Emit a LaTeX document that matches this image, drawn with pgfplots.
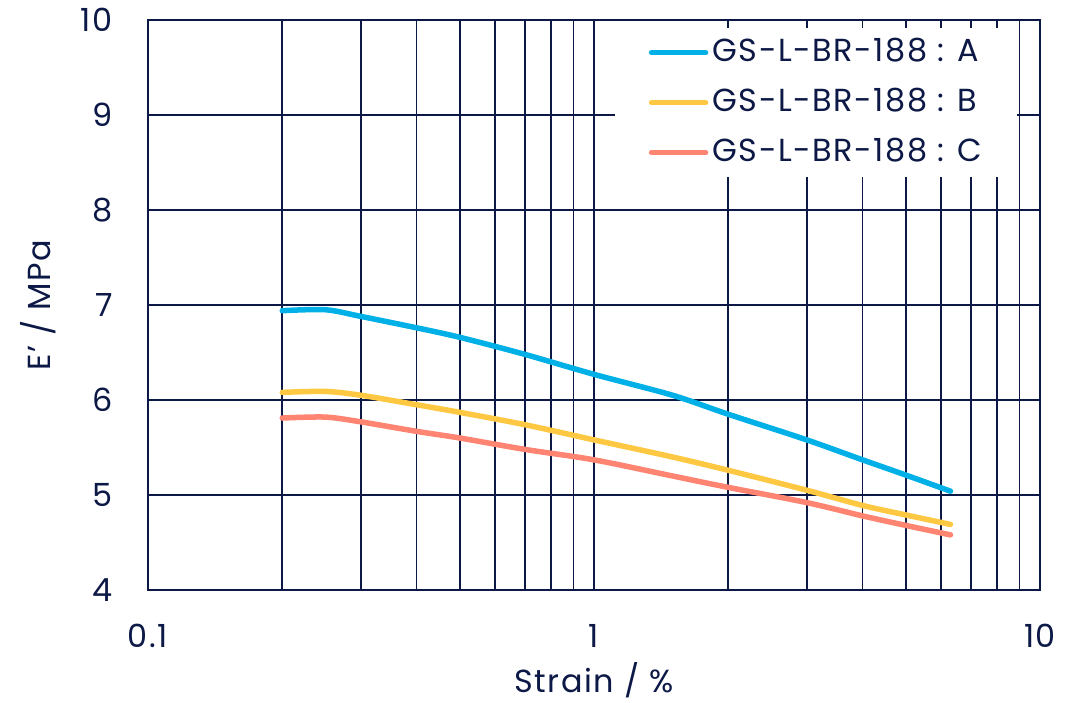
\documentclass[border=0pt]{standalone}
\usepackage{pgfplots}
\pgfplotsset{compat=1.18}
\usepackage{fontspec}
\setmainfont[LetterSpace=5]{Poppins}
\definecolor{navy}{HTML}{0C1845}
\definecolor{cblue}{HTML}{00B0E6}
\definecolor{cyellow}{HTML}{FFC842}
\definecolor{csalmon}{HTML}{FF8472}
\pgfplotstableread{
x y
0.20 6.94
0.25 6.95
0.30 6.88
0.40 6.76
0.50 6.66
0.70 6.48
1.00 6.27
1.50 6.05
2.00 5.85
3.00 5.58
4.00 5.37
5.00 5.21
6.30 5.04
}\dataA
\pgfplotstableread{
x y
0.20 6.08
0.25 6.09
0.30 6.05
0.40 5.95
0.50 5.87
0.70 5.74
1.00 5.58
1.50 5.40
2.00 5.26
3.00 5.05
4.00 4.89
5.00 4.79
6.30 4.69
}\dataB
\pgfplotstableread{
x y
0.20 5.81
0.25 5.82
0.30 5.77
0.40 5.67
0.50 5.60
0.70 5.48
1.00 5.37
1.50 5.20
2.00 5.08
3.00 4.92
4.00 4.78
5.00 4.68
6.30 4.58
}\dataC
\begin{document}
\begin{tikzpicture}
\begin{axis}[
  xmode=log, log basis x=10,
  scale only axis, width=892bp, height=570bp,
  xmin=0.1, xmax=10, ymin=4, ymax=10,
  ytick={4,5,...,10},
  xtick={0.1,0.2,0.3,0.4,0.5,0.6,0.7,0.8,0.9,1,2,3,4,5,6,7,8,9,10},
  xticklabels={0.1,,,,,,,,,1,,,,,,,,,10},
  grid=major,
  major grid style={navy, line width=1.8bp},
  axis line style={navy, line width=2.2bp},
  major tick length=0pt, minor tick length=0pt,
  /pgf/number format/assume math mode=true,
  tick label style={font=\fontsize{32}{38}\selectfont, text=navy, inner sep=0pt},
  yticklabel style={xshift=-35bp},
  xticklabel style={anchor=north, yshift=-34bp},
  label style={font=\fontsize{32}{38}\selectfont, text=navy},
  xlabel={Strain / \%},
  ylabel={E' / MPa},
  xlabel style={at={(axis description cs:0.5,-0.158)}, anchor=center},
  ylabel style={at={(axis description cs:-0.1233,0.5)}, anchor=center},
  legend style={at={(axis description cs:0.974,0.986)}, anchor=north east,
    fill=white, draw=none, inner xsep=34bp, inner ysep=10bp,
    font=\fontsize{32}{38}\selectfont, text=navy,
    nodes={inner sep=0pt, text height=23bp, text depth=6bp, anchor=west},
    row sep=21bp, column sep=4bp},
  legend cell align=left,
  legend image code/.code={\draw[#1, line width=5.5bp, line cap=round] (0bp,0bp) -- (54bp,0bp);},
]
\addplot[cblue, line width=5.5bp, line cap=round, smooth] table {\dataA};
\addlegendentry{GS-L-BR-188 : A}
\addplot[cyellow, line width=5.5bp, line cap=round, smooth] table {\dataB};
\addlegendentry{GS-L-BR-188 : B}
\addplot[csalmon, line width=5.5bp, line cap=round, smooth] table {\dataC};
\addlegendentry{GS-L-BR-188 : C}
\end{axis}
\useasboundingbox ([xshift=-148bp,yshift=-113bp]current axis.south west) rectangle ([xshift=48bp,yshift=20bp]current axis.north east);
\end{tikzpicture}
\end{document}
